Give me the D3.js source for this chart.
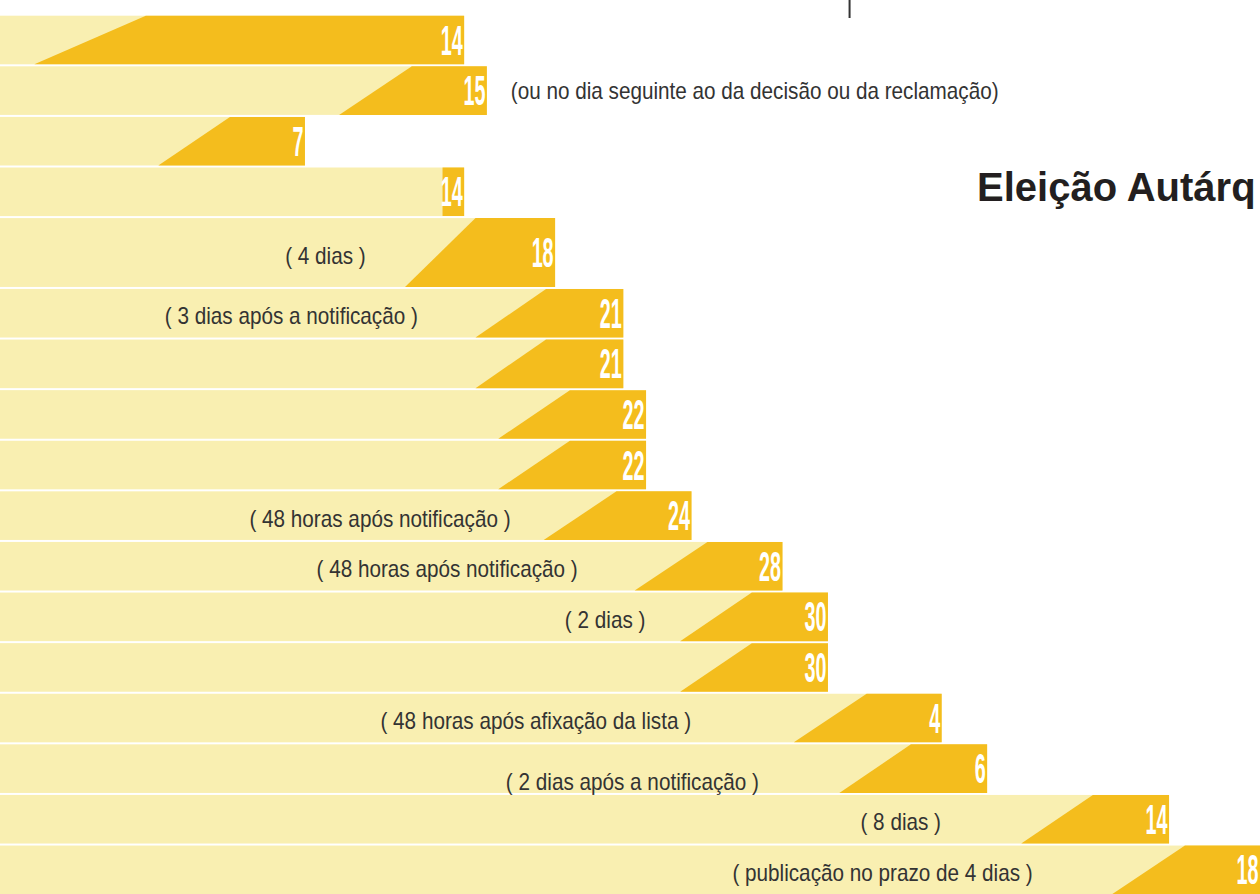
<!DOCTYPE html>
<html>
<head>
<meta charset="utf-8">
<script src="https://cdn.jsdelivr.net/npm/d3@7"></script>
<style>
	body { margin: 0; background: #fff; }
	svg { display: block; }
	.note { font-family: "Liberation Sans", Arial, sans-serif; font-size: 23px; fill: #333; }
	.day { font-family: "Liberation Sans", Arial, sans-serif; font-weight: bold; font-size: 42px; fill: #fff; }
	.title { font-family: "Liberation Sans", Arial, sans-serif; font-weight: bold; font-size: 40px; fill: #231f20; }
</style>
</head>
<body>
<div id="chart"></div>
<script>

// day on which each step ends (past 31 = following month)
var endDays = [14, 15, 7, 14, 18, 21, 21, 22, 22, 24, 28, 30, 30, 35, 37, 45, 49];
var dayLabels = ["14", "15", "7", "14", "18", "21", "21", "22", "22", "24", "28", "30", "30", "4", "6", "14", "18"];

// dark band: day at top of the slant, day at bottom of the slant
var bandTop = [0, 11.7, 3.7, 13.05, 14.5, 17.6, 17.6, 18.65, 18.65, 20.7, 24.7, 26.65, 26.65, 31.7, 33.65, 41.65, 45.7];
var bandBottom = [-4.9, 8.5, 0.55, 13.05, 11.4, 14.5, 14.5, 15.5, 15.5, 17.5, 21.5, 23.5, 23.5, 28.5, 30.5, 38.5, 42.5];

// relative row heights
var rowSize = [1, 1, 1, 1, 1.4, 1, 1, 1, 1, 1, 1, 1, 1, 1, 1, 1, 1];

// notes inside the bars and the day they are centred on
var notes = ["", "", "", "", "( 4 dias )", "( 3 dias após a notificação )", "", "", "",
	"( 48 horas após notificação )", "( 48 horas após notificação )", "( 2 dias )", "",
	"( 48 horas após afixação da lista )", "( 2 dias após a notificação )", "( 8 dias )",
	"( publicação no prazo de 4 dias )"];
var noteDays = [0, 0, 0, 0, 7.9, 6.4, 0, 0, 0, 10.3, 13.25, 20.2, 0, 17.15, 21.4, 33.2, 32.4];
var noteShift = [0, 0, 0, 0, 0, 0, 0, 0, 0, 0, 0, 0, 0, 0, 0.2, 0, 0];

// note outside row 2
var sideNote = "(ou no dia seguinte ao da decisão ou da reclamação)";
var sideNoteDay = 16.05;

// title, as much as the crop shows
var titleText = "Eleição Autárq";
var monthEnd = 30.95;


/*
 * TimelineChart - Object constructor function
 * @param _parentElement 	-- the HTML element in which to draw the visualization
 */

TimelineChart = function (_parentElement) {
	this.parentElement = _parentElement;
	this.initVis();
}

TimelineChart.prototype.initVis = function () {
	var vis = this;

	vis.width = 1260;
	vis.height = 894;

	vis.svg = d3.select("#" + vis.parentElement).append("svg")
		.attr("width", vis.width)
		.attr("height", vis.height)
		.style("overflow", "hidden");

	// rows stacked from the top, row 5 is taller
	var cum = 0;
	vis.rows = endDays.map(function (d, i) {
		var r = {
			i: i, end: d, label: dayLabels[i], top: bandTop[i], bottom: bandBottom[i],
			start: cum, size: rowSize[i], note: notes[i], noteDay: noteDays[i], shift: noteShift[i]
		};
		cum += rowSize[i];
		return r;
	});

	// Scales
	vis.x = d3.scaleLinear()
		.domain([0, 49])
		.range([145.8, 1260]);

	vis.y = d3.scaleLinear()
		.domain([0, cum])
		.range([15.7, 15.7 + cum * 50.6]);

	vis.gap = 2;

	vis.updateVis();
}

TimelineChart.prototype.updateVis = function () {
	var vis = this;

	var rowTop = function (d) { return vis.y(d.start); };
	var rowBot = function (d) { return vis.y(d.start + d.size) - vis.gap; };

	var rows = vis.svg.selectAll(".row")
		.data(vis.rows)
		.enter().append("g")
		.attr("class", "row");

	// light bar from the left edge
	rows.append("rect")
		.attr("x", vis.x(-8))
		.attr("y", rowTop)
		.attr("width", function (d) { return vis.x(d.end) - vis.x(-8); })
		.attr("height", function (d) { return rowBot(d) - rowTop(d); })
		.attr("fill", "#f9efb1");

	// dark slanted band
	rows.append("path")
		.attr("d", function (d) {
			var y0 = rowTop(d), y1 = rowBot(d);
			return "M" + vis.x(d.top) + "," + y0 +
				"L" + vis.x(d.end) + "," + y0 +
				"L" + vis.x(d.end) + "," + y1 +
				"L" + vis.x(d.bottom) + "," + y1 + "Z";
		})
		.attr("fill", "#f4bd1d");

	// day number, condensed white
	rows.append("text")
		.attr("class", "day")
		.attr("text-anchor", "end")
		.attr("transform", function (d) {
			var cy = (rowTop(d) + rowBot(d)) / 2;
			return "translate(" + (vis.x(d.end) - 1.5) + "," + (cy + 14.5) + ") scale(0.47,1)";
		})
		.text(function (d) { return d.label; });

	// notes
	rows.filter(function (d) { return d.note !== ""; })
		.append("text")
		.attr("class", "note")
		.attr("text-anchor", "middle")
		.attr("transform", function (d) {
			var cy = (rowTop(d) + rowBot(d)) / 2 + d.shift * 50.6;
			return "translate(" + vis.x(d.noteDay) + "," + (cy + 11) + ") scale(0.9,1)";
		})
		.text(function (d) { return d.note; });

	var r2 = vis.rows[1];
	vis.svg.append("text")
		.attr("class", "note")
		.attr("transform", "translate(" + vis.x(sideNoteDay) + "," +
			((rowTop(r2) + rowBot(r2)) / 2 + 8.5) + ") scale(0.9,1)")
		.text(sideNote);

	// month boundary tick at the top
	vis.svg.append("line")
		.attr("x1", vis.x(monthEnd))
		.attr("x2", vis.x(monthEnd))
		.attr("y1", 0)
		.attr("y2", 18)
		.attr("stroke", "#333")
		.attr("stroke-width", 2);

	// title
	vis.svg.append("text")
		.attr("class", "title")
		.attr("x", 977)
		.attr("y", 200.7)
		.text(titleText);
}

var chart = new TimelineChart("chart");

</script>
</body>
</html>
